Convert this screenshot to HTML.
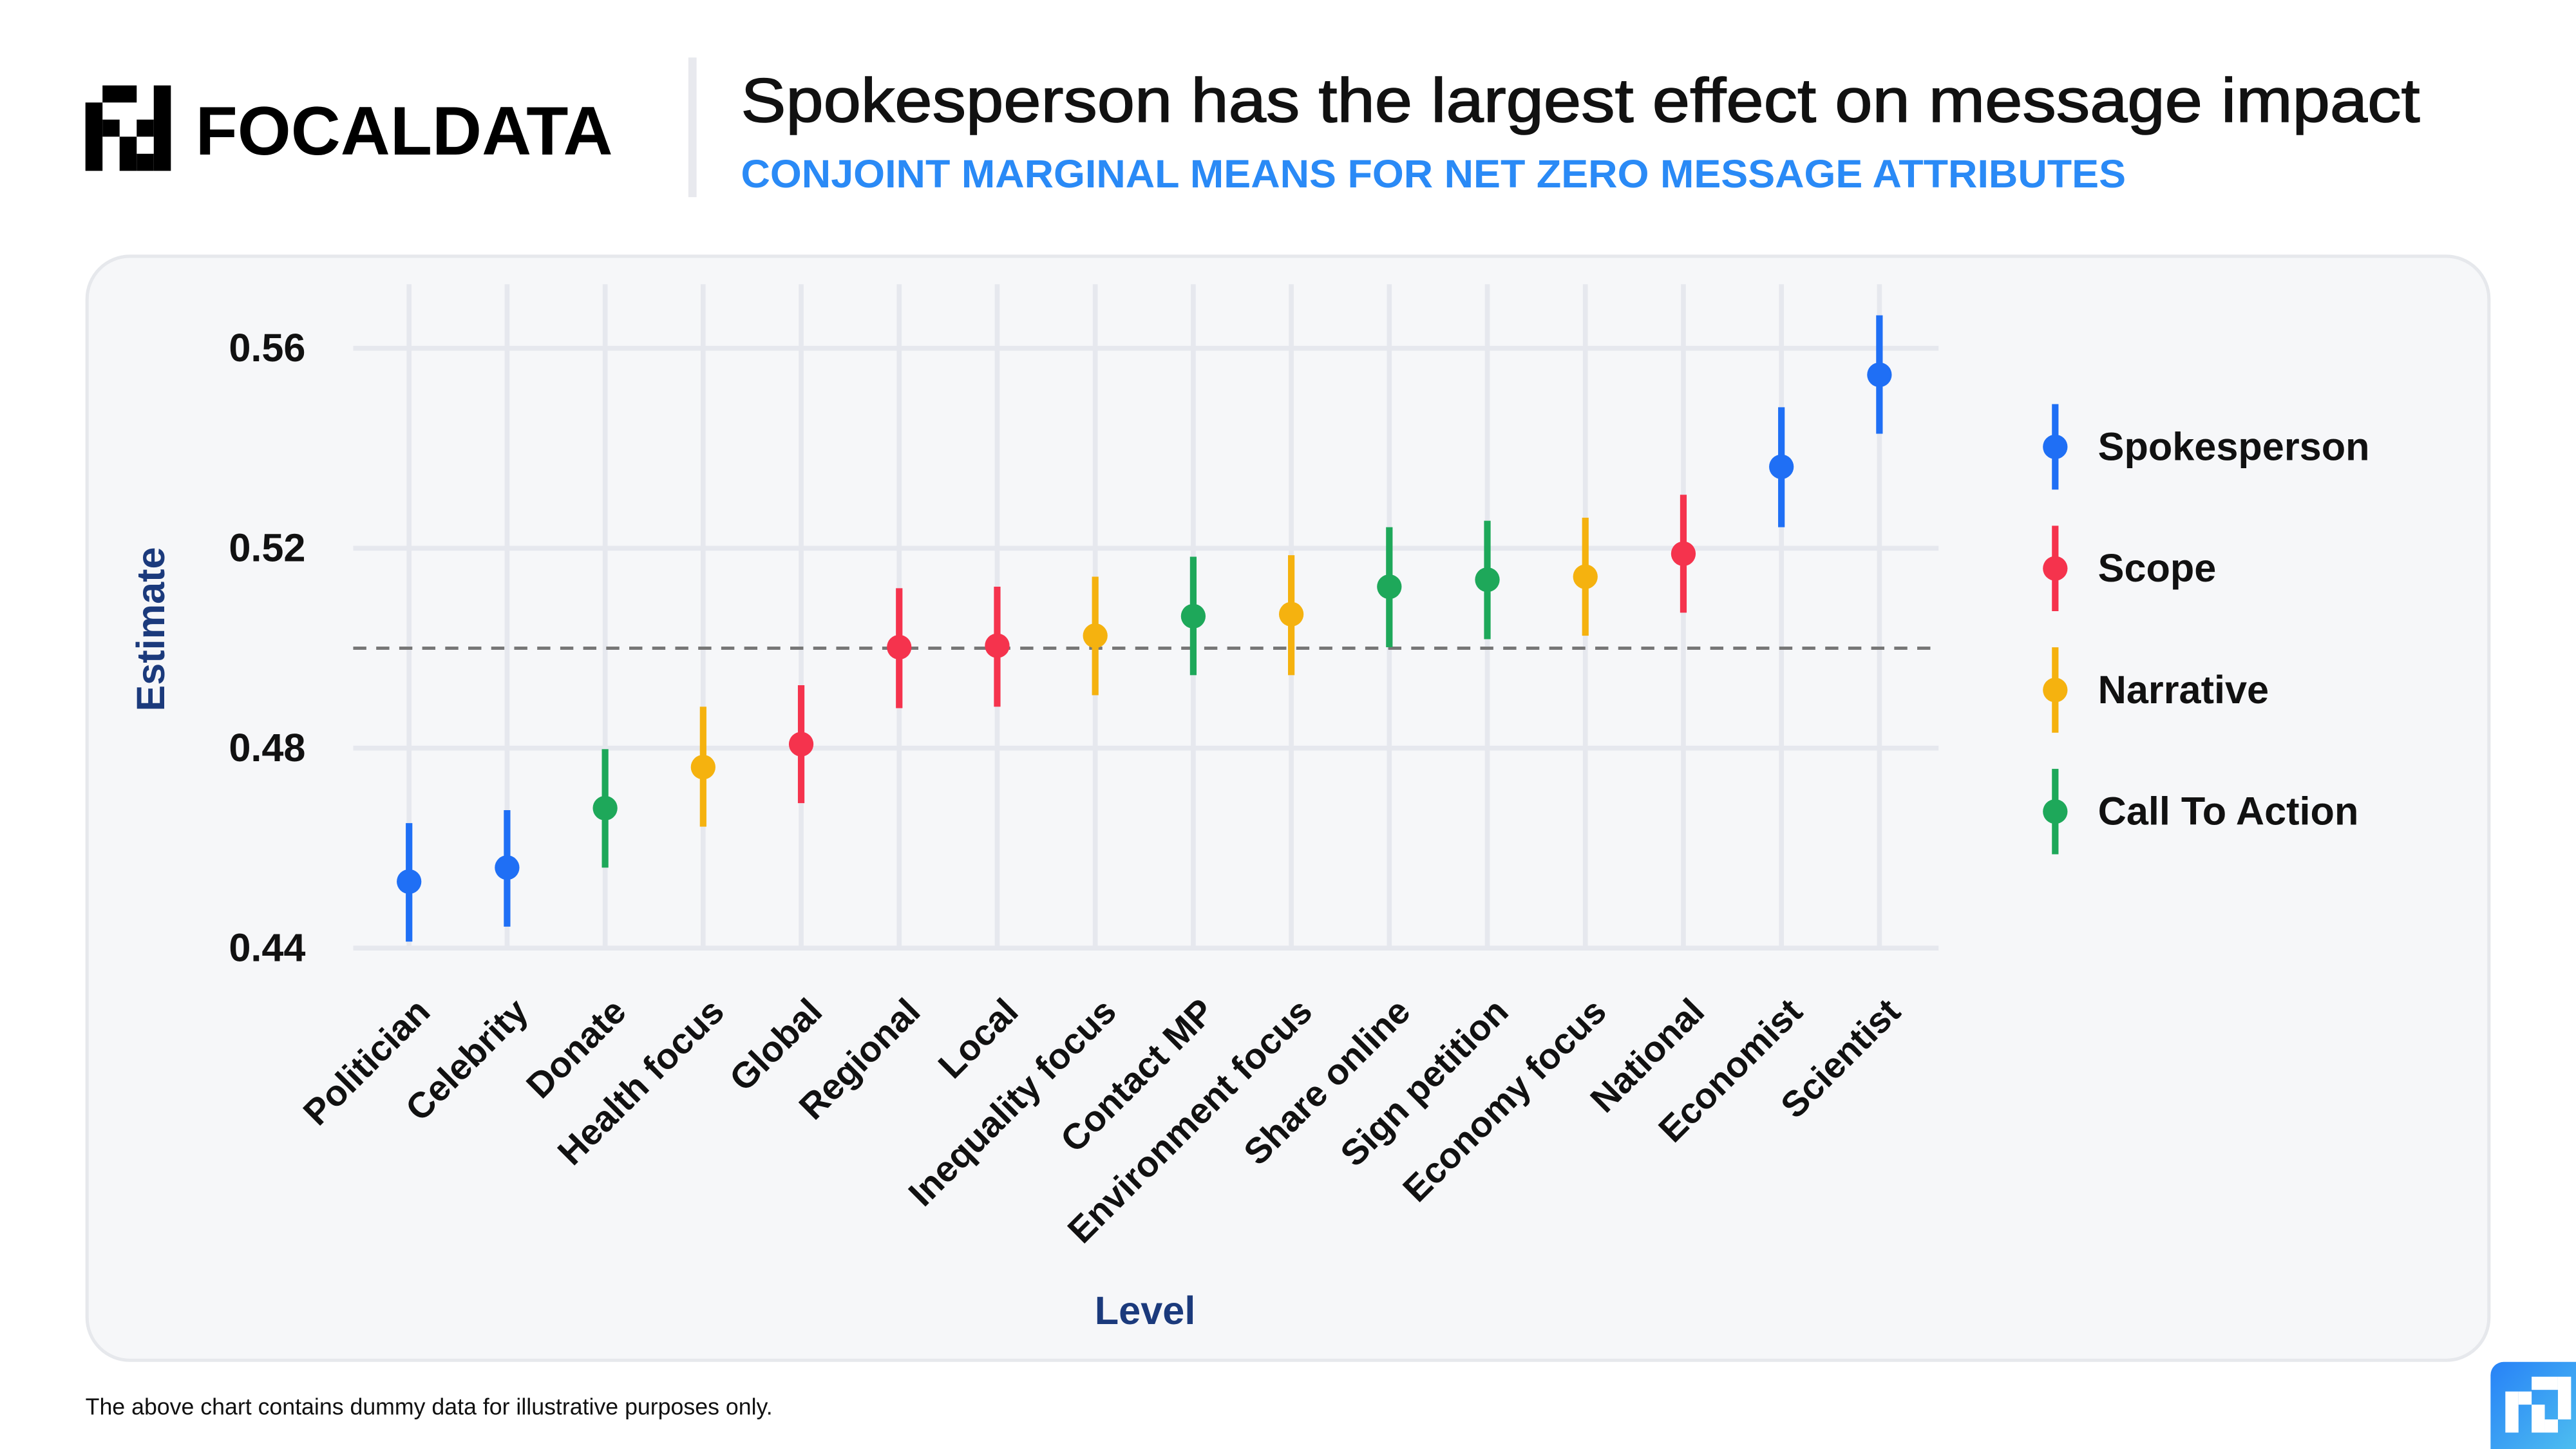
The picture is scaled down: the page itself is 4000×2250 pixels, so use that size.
<!DOCTYPE html>
<html><head><meta charset="utf-8">
<style>
html,body{margin:0;padding:0;background:#fff;}
svg{display:block;font-family:"Liberation Sans",sans-serif;}
</style></head>
<body>
<svg id="chart" width="4000" height="2250" viewBox="0 0 1568 882" xmlns="http://www.w3.org/2000/svg">
  <defs>
    <linearGradient id="ig" x1="0" y1="0" x2="1" y2="1">
      <stop offset="0" stop-color="#2782f7"/><stop offset="1" stop-color="#4dbdf0"/>
    </linearGradient>
  </defs>
  <g>
    <g fill="#000">
      <rect x="62.4" y="52" width="20.8" height="10.4"/><rect x="93.6" y="52" width="10.4" height="52"/>
      <rect x="52" y="62.4" width="10.4" height="41.6"/><rect x="62.4" y="72.8" width="10.4" height="10.4"/>
      <rect x="83.2" y="72.8" width="10.4" height="10.4"/><rect x="72.8" y="83.2" width="10.4" height="20.8"/>
      <rect x="83.2" y="93.6" width="10.4" height="10.4"/>
    </g>
    <text x="119" y="94" font-size="42" font-weight="700" textLength="254" lengthAdjust="spacingAndGlyphs">FOCALDATA</text>
  </g>
  <rect x="419" y="35" width="5" height="85" fill="#e8e9ee"/>
  <text x="451" y="74" font-size="38" fill="#111" stroke="#111" stroke-width="0.6" textLength="1022" lengthAdjust="spacingAndGlyphs">Spokesperson has the largest effect on message impact</text>
  <text x="451" y="114" font-size="24" font-weight="700" fill="#2a8af6" textLength="843" lengthAdjust="spacingAndGlyphs">CONJOINT MARGINAL MEANS FOR NET ZERO MESSAGE ATTRIBUTES</text>

  <rect x="53" y="156" width="1462" height="672" rx="26" fill="#f6f7f9" stroke="#e6e8ec" stroke-width="2"/>

  <g id="grid"></g>
  <g id="yticks"></g>
  <g id="xticks"></g>
  <g id="marks"></g>
  <text x="0" y="0" transform="translate(100,383) rotate(-90)" text-anchor="middle" font-size="24" font-weight="700" fill="#1b3a7c">Estimate</text>
  <text x="697" y="806" text-anchor="middle" font-size="24" font-weight="700" fill="#1b3a7c">Level</text>
  <g id="legend"></g>

  <text x="52" y="861" font-size="14" fill="#111">The above chart contains dummy data for illustrative purposes only.</text>
  <g>
    <path d="M1524,829 H1568 V882 H1516 V837 A8,8 0 0 1 1524,829 Z" fill="url(#ig)"/>
    <g fill="#fff">
      <rect x="1525" y="847" width="8" height="25"/><rect x="1533" y="847" width="8" height="8"/>
      <rect x="1541" y="838" width="16" height="8"/><rect x="1541" y="855" width="8" height="17"/>
      <rect x="1549" y="864" width="8" height="8"/><rect x="1557" y="838" width="8" height="26"/>
    </g>
  </g>
</svg>
<script>
const categories = ["Politician","Celebrity","Donate","Health focus","Global","Regional","Local","Inequality focus","Contact MP","Environment focus","Share online","Sign petition","Economy focus","National","Economist","Scientist"];
const groups = ["Spokesperson","Spokesperson","Call To Action","Narrative","Scope","Scope","Scope","Narrative","Call To Action","Narrative","Call To Action","Call To Action","Narrative","Scope","Spokesperson","Spokesperson"];
const estimates = [0.4533,0.4561,0.4680,0.4762,0.4808,0.5002,0.5005,0.5025,0.5064,0.5068,0.5123,0.5137,0.5143,0.5189,0.5363,0.5547];
const lowers = [0.4413,0.4443,0.4561,0.4643,0.4690,0.4880,0.4883,0.4906,0.4946,0.4946,0.5002,0.5018,0.5025,0.5071,0.5242,0.5429];
const uppers = [0.4650,0.4676,0.4798,0.4883,0.4926,0.5120,0.5123,0.5143,0.5183,0.5186,0.5242,0.5255,0.5261,0.5307,0.5482,0.5666];
const yTicks = [0.44,0.48,0.52,0.56];
const yTickLabels = ["0.44","0.48","0.52","0.56"];
const refLine = 0.50;
const legendNames = ["Spokesperson","Scope","Narrative","Call To Action"];
const colors = {"Spokesperson":"#1f6ff5","Scope":"#f5334d","Narrative":"#f5b20f","Call To Action":"#1ea85a"};

const NS="http://www.w3.org/2000/svg";
const y = v => 212 + (0.56 - v) / 0.04 * 121.7;
const x = i => 249 + i * (1144 - 249) / (categories.length - 1);
function mk(tag, attrs, parent){const e=document.createElementNS(NS,tag);for(const k in attrs)e.setAttribute(k,attrs[k]);parent.appendChild(e);return e;}
const grid=document.getElementById('grid'), yt=document.getElementById('yticks'), xt=document.getElementById('xticks'), marks=document.getElementById('marks'), leg=document.getElementById('legend');

yTicks.forEach((t,i)=>{
  const l=mk('line',{x1:215,x2:1180,y1:y(t),y2:y(t),stroke:'#e6e8ee','stroke-width':3},grid);
  
  
  const tx=mk('text',{x:186,y:y(t)+8,'text-anchor':'end','font-size':24,'font-weight':700,fill:'#111'},yt);
  tx.textContent=yTickLabels[i];
  
  
});
categories.forEach((c,i)=>{
  const l=mk('line',{x1:x(i),x2:x(i),y1:173,y2:y(0.44),stroke:'#e6e8ee','stroke-width':3},grid);
  
  
  const tx=mk('text',{x:0,y:0,'text-anchor':'end','font-size':22,'font-weight':700,fill:'#111',transform:`translate(${x(i)+14},${y(0.44)+40}) rotate(-45)`},xt);
  tx.textContent=c;
  
  
});
const rl=mk('line',{x1:215,x2:1175,y1:y(refLine),y2:y(refLine),stroke:'#777','stroke-width':2,'stroke-dasharray':'8,6'},grid);



categories.forEach((c,i)=>{
  const col=colors[groups[i]];
  const g=mk('g',{},marks);
  
  
  mk('line',{x1:x(i),x2:x(i),y1:y(lowers[i]),y2:y(uppers[i]),stroke:col,'stroke-width':4},g);
  mk('circle',{cx:x(i),cy:y(estimates[i]),r:7.5,fill:col},g);
});
legendNames.forEach((n,i)=>{
  const cy=272+i*74;
  const g=mk('g',{},leg);
  
  
  mk('line',{x1:1251,x2:1251,y1:cy-26,y2:cy+26,stroke:colors[n],'stroke-width':4},g);
  mk('circle',{cx:1251,cy:cy,r:7.5,fill:colors[n]},g);
  const t=mk('text',{x:1277,y:cy+8,'font-size':24,'font-weight':700,fill:'#111'},g);
  t.textContent=n;
});
</script>
</body></html>
